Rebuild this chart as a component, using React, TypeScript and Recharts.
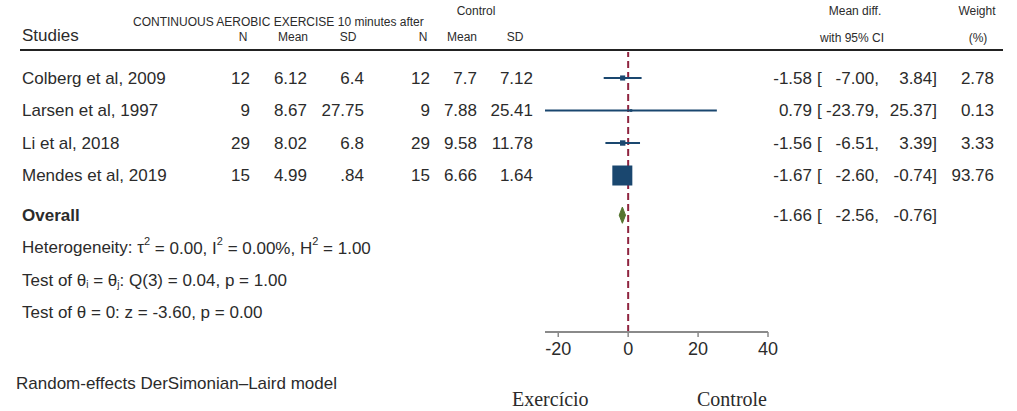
import { ScatterChart, Scatter, XAxis, YAxis, ErrorBar, ReferenceLine } from 'recharts'

const studies = ['Colberg et al, 2009', 'Larsen et al, 1997', 'Li et al, 2018', 'Mendes et al, 2019']
const expN = ['12', '9', '29', '15']
const expMean = ['6.12', '8.67', '8.02', '4.99']
const expSD = ['6.4', '27.75', '6.8', '.84']
const ctlN = ['12', '9', '29', '15']
const ctlMean = ['7.7', '7.88', '9.58', '6.66']
const ctlSD = ['7.12', '25.41', '11.78', '1.64']
const meanDiff = [-1.58, 0.79, -1.56, -1.67]
const ciLow = [-7.0, -23.79, -6.51, -2.6]
const ciHigh = [3.84, 25.37, 3.39, -0.74]
const weights = [2.78, 0.13, 3.33, 93.76]

const overallEst = -1.66
const overallLow = -2.56
const overallHigh = -0.76

const xTicks = [-20, 0, 20, 40]
const xDomain = [-23.79, 40]

const studyRows = [1, 2, 3, 4]
const overallRow = 5.22
const statRows = [6.22, 7.22, 8.22]
const yDomain = [0.2, 8.815]

// layout
const W = 1017
const H = 411
const PLOT_TOP = 52
const AXIS_Y = 332
const rowY = (r: number) => PLOT_TOP + (r - yDomain[0]) * (AXIS_Y - PLOT_TOP) / (yDomain[1] - yDomain[0])

const NAVY = '#1a476f'
const GREEN = '#55752f'
const MAROON = '#8f2440'
const TEXT = '#2b2b2b'
const FONT = '"Liberation Sans", Arial, sans-serif'
const SERIF = '"Liberation Serif", "Times New Roman", serif'

const fmt = (v: number) => v.toFixed(2)

const studyData = studies.map((_, i) => ({
  x: meanDiff[i],
  y: studyRows[i],
  err: [meanDiff[i] - ciLow[i], ciHigh[i] - meanDiff[i]],
  w: weights[i],
}))

const diamondData = [
  { x: overallLow, y: overallRow },
  { x: overallEst, y: overallRow - 0.25 },
  { x: overallHigh, y: overallRow },
  { x: overallEst, y: overallRow + 0.25 },
]

const boxSide = (w: number) => 2 + 18 * Math.sqrt(w / Math.max(...weights))

function StudyBox({ cx, cy, payload }: any) {
  const s = boxSide(payload.w)
  return <rect x={cx - s / 2} y={cy - s / 2} width={s} height={s} fill={NAVY} />
}

function DiamondLine(props: any) {
  const pts = (props.points || []).map((p: any) => `${p.x},${p.y}`).join(' ')
  return <polygon points={pts} fill={GREEN} stroke={GREEN} strokeWidth={1} />
}

function Txt({ x, y, children, anchor = 'start', size = 17, weight = 400, family = FONT }: any) {
  return (
    <text x={x} y={y} textAnchor={anchor} dominantBaseline="central" fontSize={size}
      fontWeight={weight} fontFamily={family} fill={TEXT}>
      {children}
    </text>
  )
}

function Table() {
  return (
    <svg width={W} height={H} style={{ position: 'absolute', left: 0, top: 0, pointerEvents: 'none' }}>
      {/* headers */}
      <Txt x={22} y={35} size={17}>Studies</Txt>
      <Txt x={133} y={22} size={12}>CONTINUOUS AEROBIC EXERCISE 10 minutes after</Txt>
      <Txt x={476} y={11} size={12} anchor="middle">Control</Txt>
      <Txt x={243} y={37} size={12} anchor="middle">N</Txt>
      <Txt x={293} y={37} size={12} anchor="middle">Mean</Txt>
      <Txt x={348} y={37} size={12} anchor="middle">SD</Txt>
      <Txt x={423} y={37} size={12} anchor="middle">N</Txt>
      <Txt x={462} y={37} size={12} anchor="middle">Mean</Txt>
      <Txt x={515} y={37} size={12} anchor="middle">SD</Txt>
      <Txt x={855} y={11} size={12} anchor="middle">Mean diff.</Txt>
      <Txt x={852} y={38} size={12} anchor="middle">with 95% CI</Txt>
      <Txt x={977} y={11} size={12} anchor="middle">Weight</Txt>
      <Txt x={978} y={38} size={12} anchor="middle">(%)</Txt>
      <line x1={20} x2={1003} y1={50} y2={50} stroke="#222" strokeWidth={2} />

      {studies.map((s, i) => {
        const y = rowY(studyRows[i])
        return (
          <g key={s}>
            <Txt x={22} y={y}>{s}</Txt>
            <Txt x={250} y={y} anchor="end">{expN[i]}</Txt>
            <Txt x={307} y={y} anchor="end">{expMean[i]}</Txt>
            <Txt x={364} y={y} anchor="end">{expSD[i]}</Txt>
            <Txt x={430} y={y} anchor="end">{ctlN[i]}</Txt>
            <Txt x={477} y={y} anchor="end">{ctlMean[i]}</Txt>
            <Txt x={533} y={y} anchor="end">{ctlSD[i]}</Txt>
            <Txt x={812} y={y} anchor="end">{fmt(meanDiff[i])}</Txt>
            <Txt x={817} y={y}>[</Txt>
            <Txt x={879} y={y} anchor="end">{fmt(ciLow[i])},</Txt>
            <Txt x={937} y={y} anchor="end">{fmt(ciHigh[i])}]</Txt>
            <Txt x={994} y={y} anchor="end">{fmt(weights[i])}</Txt>
          </g>
        )
      })}

      <Txt x={22} y={rowY(overallRow)} weight={700}>Overall</Txt>
      <Txt x={812} y={rowY(overallRow)} anchor="end">{fmt(overallEst)}</Txt>
      <Txt x={817} y={rowY(overallRow)}>[</Txt>
      <Txt x={879} y={rowY(overallRow)} anchor="end">{fmt(overallLow)},</Txt>
      <Txt x={937} y={rowY(overallRow)} anchor="end">{fmt(overallHigh)}]</Txt>

      <Txt x={22} y={rowY(statRows[0])}>
        Heterogeneity: τ<tspan fontSize={11} dy={-7}>2</tspan>
        <tspan dy={7}> = 0.00, I</tspan><tspan fontSize={11} dy={-7}>2</tspan>
        <tspan dy={7}> = 0.00%, H</tspan><tspan fontSize={11} dy={-7}>2</tspan>
        <tspan dy={7}> = 1.00</tspan>
      </Txt>
      <Txt x={22} y={rowY(statRows[1])}>
        Test of θ<tspan fontSize={10} dy={4}>i</tspan>
        <tspan dy={-4}> = θ</tspan><tspan fontSize={10} dy={4}>j</tspan>
        <tspan dy={-4}>: Q(3) = 0.04, p = 1.00</tspan>
      </Txt>
      <Txt x={22} y={rowY(statRows[2])}>Test of θ = 0: z = -3.60, p = 0.00</Txt>

      <Txt x={16} y={383}>Random-effects DerSimonian–Laird model</Txt>
      <Txt x={512} y={399} size={20} family={SERIF}>Exercício</Txt>
      <Txt x={697} y={399} size={20} family={SERIF}>Controle</Txt>
    </svg>
  )
}

export default function App() {
  return (
    <div style={{ position: 'absolute', left: 0, top: 0, width: W, height: H, background: '#fff' }}>
      <ScatterChart
        width={W}
        height={H}
        margin={{ top: PLOT_TOP, right: W - 768, bottom: H - AXIS_Y - 30, left: 545 }}
        style={{ position: 'absolute', left: 0, top: 0, fontFamily: FONT }}
      >
        <XAxis
          type="number"
          dataKey="x"
          domain={xDomain}
          ticks={xTicks}
          allowDataOverflow
          height={30}
          axisLine={{ stroke: '#8a8a8a', strokeWidth: 2 }}
          tickLine={{ stroke: '#8a8a8a', strokeWidth: 1.5 }}
          tickSize={5}
          tickMargin={5}
          tick={{ fill: TEXT, fontSize: 18, fontFamily: FONT }}
        />
        <YAxis type="number" dataKey="y" domain={yDomain} reversed hide width={0} allowDataOverflow />
        <ReferenceLine x={0} stroke={MAROON} strokeWidth={2} strokeDasharray="7 4" />
        <Scatter data={studyData} shape={StudyBox} isAnimationActive={false}>
          <ErrorBar dataKey="err" direction="x" width={0} stroke={NAVY} strokeWidth={2} isAnimationActive={false} />
        </Scatter>
        <Scatter data={diamondData} shape={() => <g />} line={DiamondLine} isAnimationActive={false} />
      </ScatterChart>
      <Table />
    </div>
  )
}
